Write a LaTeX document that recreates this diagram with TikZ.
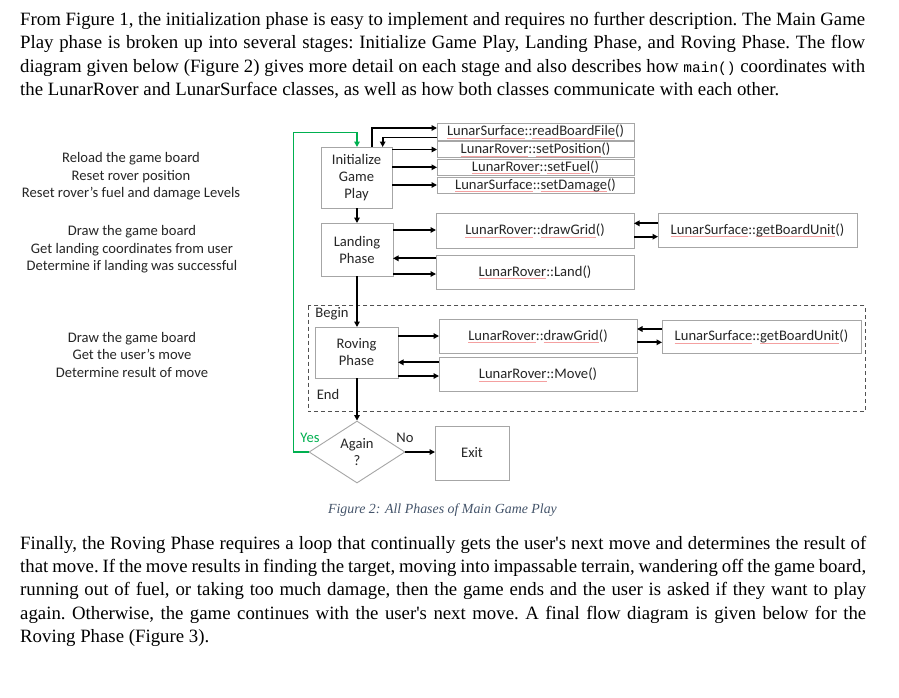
\documentclass[tikz,border=0pt]{standalone}
\usepackage{fontspec}
\setmainfont{Liberation Serif}
\newfontfamily\calfont{Carlito}
\newfontfamily\monofont{Liberation Mono}
\usetikzlibrary{arrows.meta,shapes.geometric}
\definecolor{boxgray}{HTML}{A6A6A6}
\definecolor{txtgray}{HTML}{262626}
\definecolor{capcol}{HTML}{44546A}
\definecolor{grn}{HTML}{00B050}
\definecolor{sqred}{HTML}{F4A0A0}
\newcommand\sq[1]{\setbox0\hbox{#1}\rlap{\raisebox{-2.6pt}{\textcolor{sqred}{\rule{\wd0}{0.5pt}}}}\box0}
\tikzset{
  para/.style={anchor=base west, inner sep=0pt, font=\frenchspacing\fontsize{18.8}{22}\selectfont},
  fbox/.style={draw=boxgray, line width=0.9pt, fill=white, inner sep=0pt, outer sep=0pt,
    text=txtgray, font=\calfont\fontsize{14.6}{17}\selectfont, align=center},
  side/.style={inner sep=0pt, text=txtgray, font=\calfont\fontsize{14.6}{17.5}\selectfont, align=center},
  arr/.style={line width=1.8pt, -{Triangle[length=5.5pt,width=5.5pt]}},
  garr/.style={line width=1.9pt, draw=grn, -{Triangle[length=5.5pt,width=5.5pt]}},
  lbl/.style={inner sep=0pt, font=\calfont\fontsize{14.6}{16}\selectfont}
}
\begin{document}
\begin{tikzpicture}[x=1pt,y=-1pt]
\useasboundingbox (0,0) rectangle (899,697);
\fill[white] (0,0) rectangle (899,697);
% paragraph 1
\node[para] (a1) at (20,25.5) {\makebox[845pt][s]{From Figure 1, the initialization phase is easy to implement and requires no further description. The Main Game}};
\node[para] (a2) at (20,48.8) {\makebox[845pt][s]{Play phase is broken up into several stages: Initialize Game Play, Landing Phase, and Roving Phase. The flow}};
\node[para] (a3) at (20,72.1) {\makebox[845pt][s]{diagram given below (Figure 2) gives more detail on each stage and also describes how {\monofont\fontsize{14.5}{16}\selectfont main()} coordinates with}};
\node[para] (a4) at (20,95.4) {the LunarRover and LunarSurface classes, as well as how both classes communicate with each other.};
% paragraph 2
\node[para] (b1) at (20,549) {\makebox[846pt][s]{Finally, the Roving Phase requires a loop that continually gets the user\textquotesingle s next move and determines the result of}};
\node[para] (b2) at (20,572.3) {\makebox[846pt][s]{that move. If the move results in finding the target, moving into impassable terrain, wandering off the game board,}};
\node[para] (b3) at (20,595.6) {\makebox[846pt][s]{running out of fuel, or taking too much damage, then the game ends and the user is asked if they want to play}};
\node[para] (b4) at (20,619) {\makebox[846pt][s]{again. Otherwise, the game continues with the user\textquotesingle s next move. A final flow diagram is given below for the}};
\node[para] (b5) at (20,642.3) {Roving Phase (Figure 3).};
% side notes
\node[side] (s1) at (131,176.5) {Reload the game board\\Reset rover position\\Reset rover’s fuel and damage Levels};
\node[side] (s2) at (132,249.5) {Draw the game board\\Get landing coordinates from user\\Determine if landing was successful};
\node[side] (s3) at (132,354.5) {Draw the game board\\Get the user’s move\\Determine result of move};
% dashed region
\draw[draw=txtgray!80, line width=1pt, dash pattern=on 4pt off 3pt] (308,305.5) rectangle (865,411.7);
\node[lbl, text=txtgray] (begin) at (332,314) {Begin};
\node[lbl, text=txtgray] (end) at (328,394.5) {End};
% main boxes
\node[fbox, minimum width=71pt, minimum height=61pt] (init) at (356.5,177.5) {Initialize\\Game\\Play};
\node[fbox, minimum width=72pt, minimum height=53pt] (land) at (357,249.5) {Landing\\Phase};
\node[fbox, minimum width=83pt, minimum height=51pt] (rove) at (356.5,352.5) {Roving\\Phase};
\node[draw=boxgray, line width=0.9pt, diamond, minimum width=96pt, minimum height=62pt, inner sep=0pt, text=txtgray, font=\calfont\fontsize{14.6}{17}\selectfont, align=center] (again) at (357,452) {Again\\?};
\node[fbox, minimum width=74pt, minimum height=54pt] (exit) at (472,453) {Exit};
% function boxes
\node[fbox, minimum width=197pt, minimum height=17pt] (rbf) at (535.5,131.5) {\sq{LunarSurface}::\sq{readBoardFile}()};
\node[fbox, minimum width=197pt, minimum height=16pt] (spos) at (535.5,149.5) {\sq{LunarRover}::\sq{setPosition}()};
\node[fbox, minimum width=197pt, minimum height=16.5pt] (sfuel) at (535.5,167.3) {\sq{LunarRover}::\sq{setFuel}()};
\node[fbox, minimum width=197pt, minimum height=16pt] (sdam) at (535.5,185) {\sq{LunarSurface}::\sq{setDamage}()};
\node[fbox, minimum width=198pt, minimum height=35pt] (dg1) at (535,230.5) {\sq{LunarRover}::\sq{drawGrid}()};
\node[fbox, minimum width=198pt, minimum height=34pt] (landfn) at (535,272) {\sq{LunarRover}::Land()};
\node[fbox, minimum width=199pt, minimum height=34pt] (gbu1) at (757.5,230) {\sq{LunarSurface}::\sq{getBoardUnit}()};
\node[fbox, minimum width=198pt, minimum height=34.5pt] (dg2) at (538,336.2) {\sq{LunarRover}::\sq{drawGrid}()};
\node[fbox, minimum width=198pt, minimum height=34pt] (move) at (538,374.5) {\sq{LunarRover}::Move()};
\node[fbox, minimum width=199pt, minimum height=33pt] (gbu2) at (761.5,336.5) {\sq{LunarSurface}::\sq{getBoardUnit}()};
% init arrows
\draw[arr] (init.north -| 371.7,0) |- (rbf.west |- 0,128);
\draw[arr] (rbf.west |- 0,137.5) -| (init.north -| 382.7,0);
\draw[arr] (init.east |- spos) -- (spos.west);
\draw[arr] (init.east |- sfuel) -- (sfuel.west);
\draw[arr] (init.east |- sdam) -- (sdam.west);
% vertical flow
\draw[arr] (init.south -| 357,0) -- (land.north -| 357,0);
\draw[arr] (land.south -| 357,0) -- (rove.north -| 357,0);
\draw[arr] (rove.south -| 357,0) -- (again.north);
\draw[arr] (again.east) -- (exit.west |- again.east);
% landing arrows
\draw[arr] (land.east |- 0,230) -- (dg1.west |- 0,230);
\draw[arr] (landfn.west |- 0,258.3) -- (land.east |- 0,258.3);
\draw[arr] (land.east |- 0,274) -- (landfn.west |- 0,274);
\draw[arr] (gbu1.west |- 0,223.3) -- (dg1.east |- 0,223.3);
\draw[arr] (dg1.east |- 0,236.7) -- (gbu1.west |- 0,236.7);
% roving arrows
\draw[arr] (rove.east |- 0,336) -- (dg2.west |- 0,336);
\draw[arr] (move.west |- 0,362.3) -- (rove.east |- 0,362.3);
\draw[arr] (rove.east |- 0,376) -- (move.west |- 0,376);
\draw[arr] (gbu2.west |- 0,329) -- (dg2.east |- 0,329);
\draw[arr] (dg2.east |- 0,342.3) -- (gbu2.west |- 0,342.3);
% yes loop
\coordinate (gl) at (293.5,452);
\draw[garr] (again.west) -- (gl) |- (357,132.5) -- (init.north -| 357,0);
\node[lbl, text=grn] (yes) at (310,437.5) {Yes};
\node[lbl, text=txtgray] (no) at (405,437.5) {No};
% caption
\node[inner sep=0pt, text=capcol, font=\itshape\fontsize{13.9}{16}\selectfont] (cap) at (442.5,510) {Figure 2: All Phases of Main Game Play};
\end{tikzpicture}
\end{document}
